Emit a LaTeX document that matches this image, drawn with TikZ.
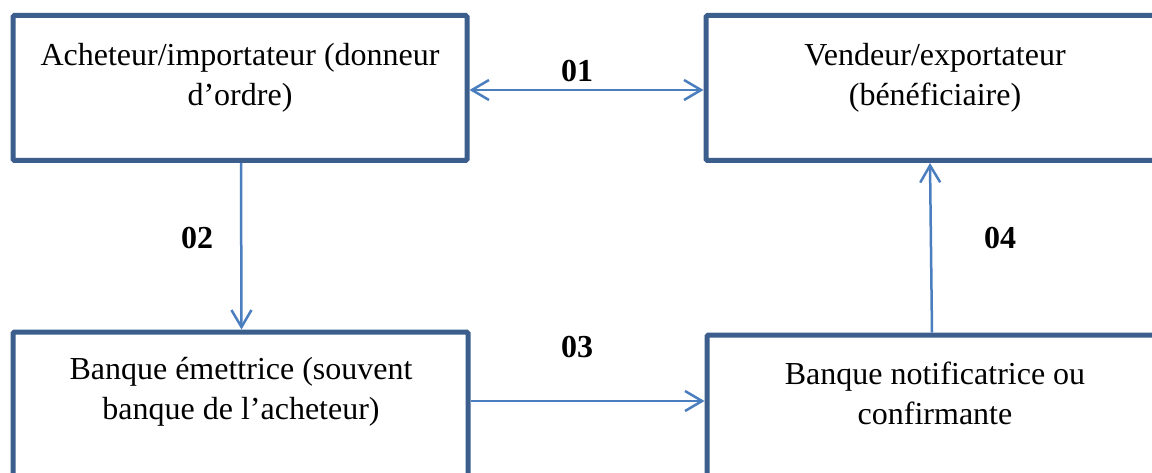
\documentclass[tikz,border=0pt]{standalone}
\usepackage{fontspec}
\setmainfont{Liberation Serif}
\usetikzlibrary{arrows.meta}
\definecolor{boxblue}{HTML}{3B5E8C}
\definecolor{arrowblue}{HTML}{4A7EBF}
\begin{document}
\begin{tikzpicture}[x=1pt,y=-1pt,
  box/.style={draw=boxblue, line width=5pt, rounded corners=1.5pt, rectangle, inner sep=0pt},
  boxtext/.style={align=center, font=\fontsize{32}{40}\selectfont},
  steplabel/.style={font=\fontsize{32}{36}\selectfont\bfseries},
  flow/.style={draw=arrowblue, line width=2.5pt, -{Straight Barb[length=17pt,width=20pt,line width=2.5pt]}},
  flowboth/.style={draw=arrowblue, line width=2.5pt, {Straight Barb[length=17pt,width=20pt,line width=2.5pt]}-{Straight Barb[length=17pt,width=20pt,line width=2.5pt]}}]
\clip (0,0) rectangle (1152,473);
\fill[white] (0,0) rectangle (1152,473);

% boxes
\node[box, minimum width=454pt, minimum height=145pt] (tl) at (240,88) {};
\node[box, minimum width=457pt, minimum height=145pt] (tr) at (934.5,88) {};
\node[box, minimum width=455pt, minimum height=158pt] (bl) at (240.5,411) {};
\node[box, minimum width=456pt, minimum height=156pt] (br) at (935,413) {};

% box texts
\node[boxtext] (tlt) at (240,78) {Acheteur/importateur (donneur\\d’ordre)};
\node[boxtext] (trt) at (935,78) {Vendeur/exportateur\\(bénéficiaire)};
\node[boxtext] (blt) at (241,392) {Banque émettrice (souvent\\banque de l’acheteur)};
\node[boxtext] (brt) at (935,393) {Banque notificatrice ou\\confirmante};

% flows
\draw[flowboth] ([yshift=-2pt]tl.east) -- ([yshift=-2pt]tr.west);
\draw[flow] ([xshift=1pt]tl.south) -- ([xshift=1pt]bl.north);
\draw[flow] ([yshift=10pt]bl.east) -- ([yshift=12pt]br.west);
\draw[flow] ([xshift=-3pt]br.north) -- ([xshift=-4.5pt]tr.south);

% step numbers
\node[steplabel] (n1) at (577,71) {01};
\node[steplabel] (n2) at (197,238) {02};
\node[steplabel] (n3) at (577,347) {03};
\node[steplabel] (n4) at (1000,238) {04};
\end{tikzpicture}
\end{document}
